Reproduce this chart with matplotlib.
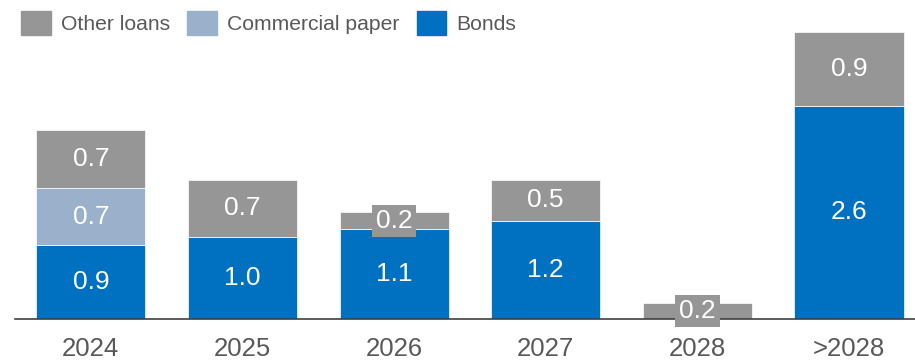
import numpy as np
import matplotlib.pyplot as plt
from matplotlib.patches import Patch

# Maturity profile (EUR bn)
years = ['2024', '2025', '2026', '2027', '2028', '>2028']
bonds = [0.9, 1.0, 1.1, 1.2, 0.0, 2.6]
commercial_paper = [0.7, 0.0, 0.0, 0.0, 0.0, 0.0]
other_loans = [0.7, 0.7, 0.2, 0.5, 0.2, 0.9]

c_bonds = '#0070C0'
c_cp = '#9BB0CA'
c_other = '#969696'
c_text = '#595959'

plt.rcParams['font.family'] = ['Liberation Sans', 'DejaVu Sans']

fig = plt.figure(figsize=(9.15, 3.63), dpi=100)
ax = fig.add_axes([15 / 915, 44 / 363, 900 / 915, 3.8 * 82 / 363])

x = np.arange(len(years))
w = 0.72
b = np.array(bonds)
cp = np.array(commercial_paper)
ot = np.array(other_loans)

ax.bar(x, b, w, color=c_bonds, edgecolor='white', linewidth=0.5)
ax.bar(x, cp, w, bottom=b, color=c_cp, edgecolor='white', linewidth=0.5)
ax.bar(x, ot, w, bottom=b + cp, color=c_other, edgecolor='white', linewidth=0.5)

# value labels, small segments get a grey box so the text stays readable
for vals, base, col in [(b, 0, c_bonds), (cp, b, c_cp), (ot, b + cp, c_other)]:
    base = np.zeros(len(x)) + base
    for i, v in enumerate(vals):
        if v <= 0:
            continue
        y = base[i] + v / 2
        kw = {}
        if v < 0.3:
            kw['bbox'] = dict(boxstyle='square,pad=0.15', fc=col, ec='none')
        ax.text(x[i], y, f'{v:.1f}', ha='center', va='center',
                color='white', fontsize=19, **kw)

ax.set_xlim(-0.5, 5.435)
ax.set_ylim(0, 3.8)
ax.set_xticks(x)
ax.set_xticklabels(years, fontsize=18.5, color=c_text)
ax.tick_params(axis='x', length=0, pad=13)
ax.set_yticks([])
for s in ['left', 'right', 'top']:
    ax.spines[s].set_visible(False)
ax.spines['bottom'].set_color('#404040')
ax.spines['bottom'].set_linewidth(1.2)

handles = [Patch(color=c_other, label='Other loans'),
           Patch(color=c_cp, label='Commercial paper'),
           Patch(color=c_bonds, label='Bonds')]
leg = fig.legend(handles=handles, loc='upper left', bbox_to_anchor=(21 / 915, 1 - 11 / 363),
                 ncol=3, frameon=False, fontsize=15.2, handlelength=1.4, handleheight=1.4,
                 handletextpad=0.5, columnspacing=0.8, borderpad=0, borderaxespad=0)
for t in leg.get_texts():
    t.set_color(c_text)

fig.savefig('out.png', dpi=100)
